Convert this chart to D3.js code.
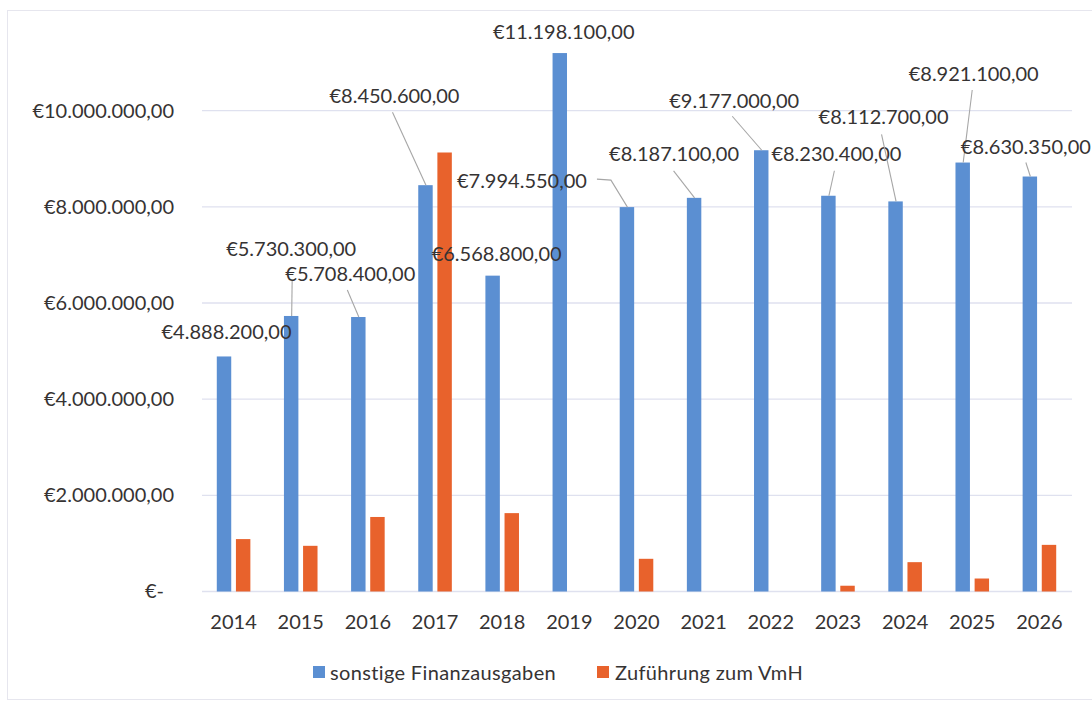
<!DOCTYPE html>
<html>
<head>
<meta charset="utf-8">
<script src="https://cdn.jsdelivr.net/npm/d3@7"></script>
<style>
  html, body { margin: 0; padding: 0; background: #ffffff; }
  svg text { font-family: Lato, "Open Sans", sans-serif; fill: #363333; }
</style>
</head>
<body>
<svg id="chart" width="1092" height="704"></svg>
<script>
// ---- data ----
const years = ["2014","2015","2016","2017","2018","2019","2020","2021","2022","2023","2024","2025","2026"];
const seriesNames = ["sonstige Finanzausgaben", "Zuführung zum VmH"];
const sonstigeFinanzausgaben = [4888200, 5730300, 5708400, 8450600, 6568800, 11198100, 7994550, 8187100, 9177000, 8230400, 8112700, 8921100, 8630350];
const zufuehrungVmH = [1090000, 950000, 1550000, 9130000, 1630000, 0, 680000, 0, 0, 120000, 610000, 270000, 970000];
const yTicks = [0, 2000000, 4000000, 6000000, 8000000, 10000000];

// label placement for the data labels of the first series (offsets from bar top, px)
const labelPlacement = [
  { dx: 2.5, dy: -25, lead: null },
  { dx: 0, dy: -68, lead: [[1, -36]] },
  { dx: -8, dy: -44, lead: [[-11, -27]] },
  { dx: -31, dy: -90, lead: [[-33, -73]] },
  { dx: 4, dy: -23, lead: null },
  { dx: 4, dy: -22, lead: null },
  { dx: -105, dy: -27, lead: [[-30, -28], [-16, -27]] },
  { dx: -20, dy: -45, lead: [[-20.5, -27]] },
  { dx: -27, dy: -50, lead: [[-29, -34]] },
  { dx: 8, dy: -42.5, lead: [[6, -25]] },
  { dx: -12, dy: -85, lead: [[-14, -67]] },
  { dx: 11, dy: -90, lead: [[9.5, -72.6]] },
  { dx: -4, dy: -31, lead: [[-4, -14]] }
];

const colors = ["#5b8fd2", "#e8622c"];

// ---- formatting ----
function euro(v) {
  if (v === 0) return "€-\u2002";
  const s = v.toFixed(2);
  const [intPart, dec] = s.split(".");
  return "€" + intPart.replace(/\B(?=(\d{3})+(?!\d))/g, ".") + "," + dec;
}

// ---- layout ----
const svg = d3.select("#chart");
const plot = { left: 200, right: 1073, top: 14.5, bottom: 591.5 };
const fs = "20px";

const x0 = d3.scaleBand().domain(years).range([plot.left, plot.right]).paddingInner(0.5).paddingOuter(0.25);
const x1 = d3.scaleBand().domain(seriesNames).range([0, x0.bandwidth()]).paddingInner(0.245).paddingOuter(0);
const y = d3.scaleLinear().domain([0, 12000000]).range([plot.bottom, plot.top]);

// chart border
svg.append("rect").attr("x", 7.5).attr("y", 10.5).attr("width", 1100).attr("height", 689)
  .attr("fill", "none").attr("stroke", "#e6e6ee").attr("stroke-width", 1);

// gridlines
svg.append("g").selectAll("line").data(yTicks).join("line")
  .attr("x1", plot.left + 2).attr("x2", plot.right - 1)
  .attr("y1", d => y(d)).attr("y2", d => y(d))
  .attr("stroke", "#dfe1ef").attr("stroke-width", 1.3);

// y axis labels
const yAxis = d3.axisLeft(y).tickValues(yTicks).tickFormat(euro).tickSize(0).tickPadding(0);
const gy = svg.append("g").attr("transform", `translate(174,0)`).call(yAxis);
gy.select(".domain").remove();
gy.selectAll("text").style("font-size", fs).attr("fill", "#363333").attr("font-family", "Lato");

// x axis labels
const xAxis = d3.axisBottom(x0).tickSize(0).tickPadding(0);
const gx = svg.append("g").attr("transform", `translate(0,${plot.bottom})`).call(xAxis);
gx.select(".domain").remove();
gx.selectAll("text").style("font-size", fs).attr("dy", "0").attr("y", 37).attr("fill", "#363333").attr("font-family", "Lato");

// bars
const seriesData = [sonstigeFinanzausgaben, zufuehrungVmH];
seriesNames.forEach((name, si) => {
  svg.append("g").selectAll("rect").data(seriesData[si]).join("rect")
    .attr("x", (d, i) => x0(years[i]) + x1(name))
    .attr("y", d => y(d))
    .attr("width", x1.bandwidth())
    .attr("height", d => y(0) - y(d))
    .attr("fill", colors[si]);
});

// data labels for first series
const lblG = svg.append("g");
sonstigeFinanzausgaben.forEach((v, i) => {
  const cx = x0(years[i]) + x1(seriesNames[0]) + x1.bandwidth() / 2;
  const ty = y(v);
  const p = labelPlacement[i];
  if (p.lead) {
    const pts = p.lead.map(([a, b]) => [cx + a, ty + b]).concat([[cx + 0.5, ty]]);
    lblG.append("path").attr("d", d3.line()(pts))
      .attr("fill", "none").attr("stroke", "#a6a6a6").attr("stroke-width", 1.1);
  }
  lblG.append("text")
    .attr("x", cx + p.dx).attr("y", ty + p.dy)
    .attr("text-anchor", "middle").attr("dominant-baseline", "central")
    .style("font-size", fs)
    .text(euro(v));
});

// legend
const legendItems = [
  { name: seriesNames[0], sx: 313, tx: 330 },
  { name: seriesNames[1], sx: 597, tx: 615 }
];
const lg = svg.append("g");
legendItems.forEach((it, i) => {
  lg.append("rect").attr("x", it.sx).attr("y", 666).attr("width", 12).attr("height", 12).attr("fill", colors[i]);
  lg.append("text").attr("x", it.tx).attr("y", 672).attr("dominant-baseline", "central")
    .style("font-size", fs).style("letter-spacing", "0.35px").text(it.name);
});
</script>
</body>
</html>
